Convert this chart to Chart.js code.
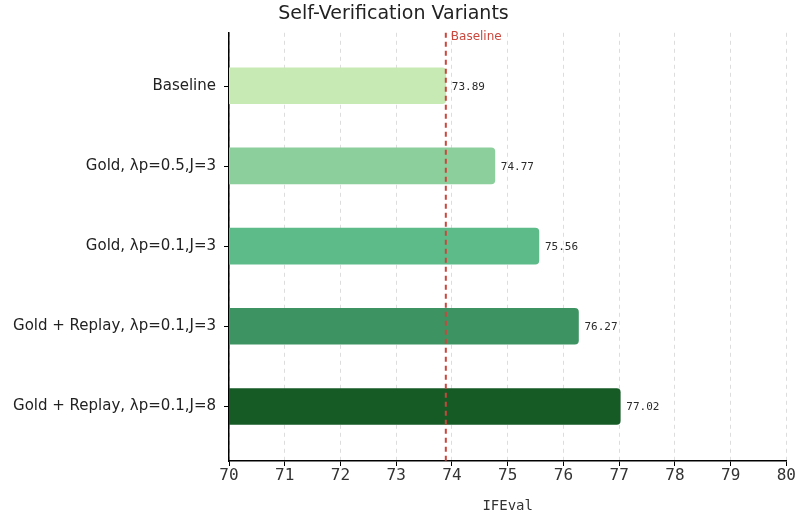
<!DOCTYPE html>
<html>
<head>
<meta charset="utf-8">
<script src="https://cdn.jsdelivr.net/npm/chart.js@4.4.1/dist/chart.umd.min.js"></script>
<style>
  html, body { margin: 0; padding: 0; background: #ffffff; }
  #wrap { width: 796px; height: 516px; }
</style>
</head>
<body>
<div id="wrap"><canvas id="c" width="796" height="516"></canvas></div>
<script>
// Variants compared on IFEval
const categories = [
  'Baseline',
  'Gold, \u03bbp=0.5,J=3',
  'Gold, \u03bbp=0.1,J=3',
  'Gold + Replay, \u03bbp=0.1,J=3',
  'Gold + Replay, \u03bbp=0.1,J=8'
];
const scores = [73.89, 74.77, 75.56, 76.27, 77.02];
const baselineScore = 73.89;
const xTicks = [70, 71, 72, 73, 74, 75, 76, 77, 78, 79, 80];
const barColors = ['#c7e9b4', '#8dcf9c', '#5cbb89', '#3d9462', '#165b26'];

const MONO = '"DejaVu Sans Mono", "Liberation Mono", monospace';
const SANS = '"DejaVu Sans", "Noto Sans", sans-serif';

// Dashed reference line at the baseline score, value labels at bar ends,
// and the small tick marks on the category axis
const overlay = {
  id: 'overlay',
  afterDraw(chart) {
    const { ctx, chartArea, scales } = chart;
    ctx.save();

    ctx.strokeStyle = '#000000';
    ctx.lineWidth = 1;
    scales.y.ticks.forEach(t => {
      const y = Math.round(scales.y.getPixelForValue(t.value)) + 0.5;
      ctx.beginPath();
      ctx.moveTo(chartArea.left - 5, y);
      ctx.lineTo(chartArea.left, y);
      ctx.stroke();
    });

    const x = scales.x.getPixelForValue(baselineScore);
    ctx.strokeStyle = '#c9473d';
    ctx.lineWidth = 2;
    ctx.setLineDash([5, 4]);
    ctx.beginPath();
    ctx.moveTo(x, chartArea.top);
    ctx.lineTo(x, chartArea.bottom);
    ctx.stroke();
    ctx.setLineDash([]);
    ctx.fillStyle = '#c9473d';
    ctx.font = '12px ' + SANS;
    ctx.textAlign = 'left';
    ctx.textBaseline = 'middle';
    ctx.fillText('Baseline', x + 5, chartArea.top + 4);

    const meta = chart.getDatasetMeta(0);
    ctx.fillStyle = '#2b2b2b';
    ctx.font = '11px ' + MONO;
    meta.data.forEach((bar, i) => {
      ctx.fillText(scores[i].toFixed(2), bar.x + 6, bar.y + 1);
    });
    ctx.restore();
  }
};

new Chart(document.getElementById('c'), {
  type: 'bar',
  data: {
    datasets: [{
      data: scores.map((v, i) => ({ x: v, y: i })),
      backgroundColor: barColors,
      borderColor: barColors,
      borderWidth: 0,
      borderRadius: { topRight: 4, bottomRight: 4, topLeft: 0, bottomLeft: 0 },
      borderSkipped: false,
      barThickness: 36
    }]
  },
  options: {
    indexAxis: 'y',
    responsive: false,
    animation: false,
    layout: { padding: { left: 0, right: 9, top: 0, bottom: 0 } },
    plugins: {
      legend: { display: false },
      tooltip: { enabled: false },
      title: {
        display: true,
        text: 'Self-Verification Variants',
        color: '#222222',
        font: { family: SANS, size: 19, weight: 'normal' },
        padding: { top: 3, bottom: 7 }
      }
    },
    scales: {
      x: {
        type: 'linear',
        min: 70,
        max: 80,
        afterBuildTicks: s => { s.ticks = xTicks.map(v => ({ value: v })); },
        afterFit: s => { s.height = 55; },
        ticks: {
          color: '#333333',
          font: { family: MONO, size: 16 },
          padding: 0
        },
        grid: {
          color: '#dddddd',
          lineWidth: 1,
          tickColor: '#000000',
          tickLength: 5,
          drawTicks: true
        },
        border: { display: true, color: '#000000', width: 1.5, dash: [4, 4] },
        title: {
          display: true,
          text: 'IFEval',
          color: '#333333',
          font: { family: MONO, size: 14 },
          padding: { top: 10, bottom: 1 }
        }
      },
      y: {
        type: 'linear',
        reverse: true,
        offset: false,
        min: -0.66,
        max: 4.68,
        afterBuildTicks: s => { s.ticks = categories.map((c, i) => ({ value: i })); },
        afterFit: s => { s.width = 229; },
        ticks: {
          color: '#222222',
          font: { family: SANS, size: 15 },
          padding: 8,
          callback: v => categories[v]
        },
        grid: {
          display: false,
          offset: false,
          tickLength: 5
        },
        border: { display: true, color: '#000000', width: 1.5 }
      }
    }
  },
  plugins: [overlay]
});
</script>
</body>
</html>
